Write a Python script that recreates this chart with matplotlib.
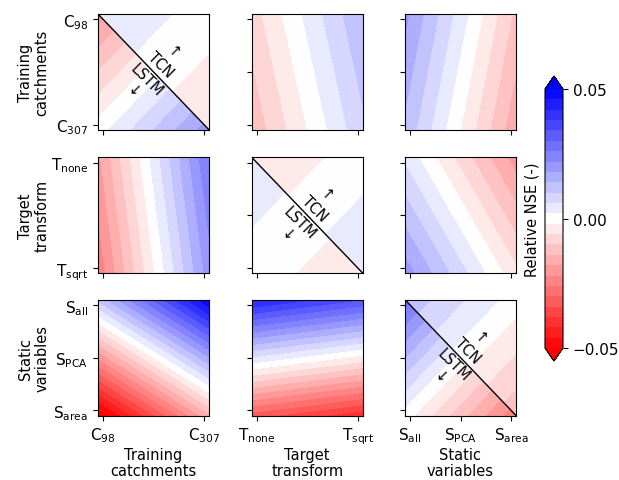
#!/usr/bin/env python3
"""Pairwise factor maps of relative NSE (TCN vs LSTM), one panel per factor pair.

Each off-diagonal panel is a contour map over two design factors; the diagonal
panels split into a TCN half (upper right) and an LSTM half (lower left).
"""
import matplotlib

matplotlib.use("Agg")  # headless
import matplotlib.pyplot as plt
import numpy as np
from matplotlib.patches import Polygon

FACTOR_NAMES = ["Training\ncatchments", "Target\ntransform", "Static\nvariables"]
FACTOR_TICKLABELS = [
    [r"C$_{\mathrm{98}}$", r"C$_{\mathrm{307}}$"],
    [r"T$_{\mathrm{none}}$", r"T$_{\mathrm{sqrt}}$"],
    [r"S$_{\mathrm{all}}$", r"S$_{\mathrm{PCA}}$", r"S$_{\mathrm{area}}$"],
]

# Relative NSE at the panel corners: [[top-left, top-right], [bottom-left, bottom-right]]
# off-diagonal panels, named <row factor>_VS_<column factor>
CATCH_VS_TARGET = [[-0.008, 0.014], [-0.013, 0.009]]
CATCH_VS_STATIC = [[0.019, -0.011], [0.013, -0.017]]
TARGET_VS_CATCH = [[-0.019, 0.026], [-0.025, 0.020]]
TARGET_VS_STATIC = [[0.005, -0.020], [0.020, -0.005]]
STATIC_VS_CATCH = [[0.011, 0.050], [-0.054, -0.015]]
STATIC_VS_TARGET = [[0.043, 0.034], [-0.032, -0.041]]

# diagonal panels: TCN half and LSTM half
CATCH_TCN = [[0.006, 0.0], [0.0, -0.006]]
CATCH_LSTM = [[-0.020, 0.0], [0.0, 0.020]]
TARGET_TCN = [[-0.006, 0.0], [0.0, 0.006]]
TARGET_LSTM = [[0.005, 0.0], [0.0, -0.005]]
STATIC_TCN = [[0.013, 0.0], [0.0, -0.013]]
STATIC_LSTM = [[0.028, 0.0], [0.0, -0.025]]

OFF_DIAGONAL = {
    (0, 1): CATCH_VS_TARGET,
    (0, 2): CATCH_VS_STATIC,
    (1, 0): TARGET_VS_CATCH,
    (1, 2): TARGET_VS_STATIC,
    (2, 0): STATIC_VS_CATCH,
    (2, 1): STATIC_VS_TARGET,
}
DIAGONAL = [(CATCH_TCN, CATCH_LSTM), (TARGET_TCN, TARGET_LSTM), (STATIC_TCN, STATIC_LSTM)]

VLIM = 0.05
LEVELS = np.linspace(-VLIM, VLIM, 26)
CMAP = "bwr_r"
INSET = 0.045  # ticks sit slightly inside the panel edges

FIG_W, FIG_H = 619, 481
COL_LEFT = [98, 251.7, 405]
ROW_TOP = [15, 158.3, 300.7]
PANEL_W, PANEL_H = 111, 115.8


def draw_field(ax, corners, clip=None):
    z = np.flipud(np.asarray(corners))  # first row is the top of the panel
    cs = ax.contourf([0, 1], [0, 1], z, levels=LEVELS, cmap=CMAP,
                     vmin=-VLIM, vmax=VLIM, extend="both")
    if clip is not None:
        cs.set_clip_path(Polygon(clip, closed=True, transform=ax.transAxes))
    return cs


def main():
    plt.rcParams["font.size"] = 10.5
    plt.rcParams["xtick.labelsize"] = 11
    plt.rcParams["ytick.labelsize"] = 11
    fig = plt.figure(figsize=(FIG_W / 100, FIG_H / 100), dpi=100)

    cs = None
    for row in range(3):
        for col in range(3):
            ax = fig.add_axes([
                COL_LEFT[col] / FIG_W,
                1 - (ROW_TOP[row] + PANEL_H) / FIG_H,
                PANEL_W / FIG_W,
                PANEL_H / FIG_H,
            ])
            if row == col:
                tcn, lstm = DIAGONAL[row]
                cs = draw_field(ax, tcn, clip=[(0, 1), (1, 1), (1, 0)])
                draw_field(ax, lstm, clip=[(0, 1), (0, 0), (1, 0)])
                ax.plot([0, 1], [1, 0], color="black", lw=1)
                ax.annotate("\u2191\nTCN", xy=(0.5, 0.5), xycoords="axes fraction",
                            xytext=(1.5, 1.5), textcoords="offset points",
                            rotation=-45, rotation_mode="anchor",
                            ha="center", va="bottom", fontsize=10.5)
                ax.annotate("LSTM\n\u2193", xy=(0.5, 0.5), xycoords="axes fraction",
                            xytext=(-1.5, -1.5), textcoords="offset points",
                            rotation=-45, rotation_mode="anchor",
                            ha="center", va="top", fontsize=10.5)
            else:
                draw_field(ax, OFF_DIAGONAL[(row, col)])
            ax.set_xlim(0, 1)
            ax.set_ylim(0, 1)

            # tick layout as in the original figure
            nx = len(FACTOR_TICKLABELS[col]) if row == 2 else 2
            ny = len(FACTOR_TICKLABELS[row]) if col == 0 else 3
            ax.set_xticks(np.linspace(INSET, 1 - INSET, nx))
            ax.set_yticks(np.linspace(1 - INSET, INSET, ny))
            if row == 2:
                ax.set_xticklabels(FACTOR_TICKLABELS[col])
                ax.set_xlabel(FACTOR_NAMES[col], linespacing=1.1)
                ax.xaxis.set_label_coords(0.5, -0.27)
            else:
                ax.set_xticklabels([])
            if col == 0:
                ax.set_yticklabels(FACTOR_TICKLABELS[row])
                ax.set_ylabel(FACTOR_NAMES[row], linespacing=1.1)
                ax.yaxis.set_label_coords(-0.44, 0.5)
            else:
                ax.set_yticklabels([])

    cax = fig.add_axes([545 / FIG_W, 1 - 362 / FIG_H, 18 / FIG_W, 285 / FIG_H])
    cbar = fig.colorbar(cs, cax=cax)
    cbar.set_ticks([-0.05, 0.0, 0.05])
    cbar.set_label("Relative NSE (-)")
    cbar.ax.yaxis.set_label_position("left")

    fig.savefig("out.png", dpi=100)


if __name__ == "__main__":
    main()
